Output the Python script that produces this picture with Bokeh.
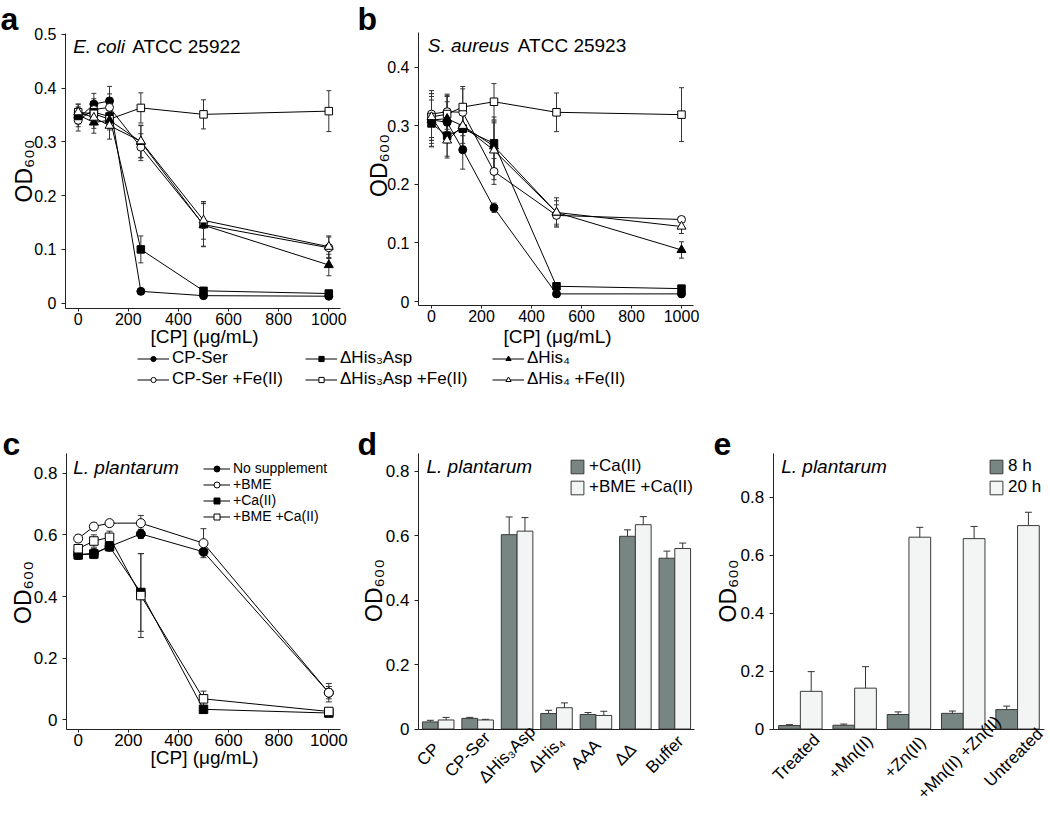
from bokeh.plotting import figure
from bokeh.models import (ColumnDataSource, Whisker, TeeHead, Legend, LegendItem, Label,
                          LabelSet, FixedTicker, CustomJSTickFormatter, Range1d)
from bokeh.core.properties import value
from bokeh.layouts import column, row
from bokeh.embed import file_html
from bokeh.resources import INLINE

FONT = "Liberation Sans"

# ---------------- data ----------------
conc = [0, 62.5, 125, 250, 500, 1000]
conc_ticks = [0, 200, 400, 600, 800, 1000]

ab_names = ["CP-Ser", "CP-Ser +Fe(II)", "ΔHis₃Asp", "ΔHis₃Asp +Fe(II)", "ΔHis₄", "ΔHis₄ +Fe(II)"]
ab_markers = ["circle", "circle", "square", "square", "triangle", "triangle"]
ab_fills = ["black", "white", "black", "white", "black", "white"]

# panel a  (E. coli)
a_cpser = [0.343, 0.370, 0.376, 0.022, 0.014, 0.013]
a_cpser_fe = [0.340, 0.360, 0.364, 0.290, 0.146, 0.103]
a_h3asp = [0.348, 0.355, 0.347, 0.100, 0.023, 0.018]
a_h3asp_fe = [0.355, 0.352, 0.342, 0.363, 0.351, 0.357]
a_h4 = [0.350, 0.336, 0.340, 0.300, 0.145, 0.071]
a_h4_fe = [0.355, 0.345, 0.330, 0.301, 0.154, 0.105]
a_cpser_err = [0.015, 0.020, 0.027, 0.003, 0.003, 0.003]
a_cpser_fe_err = [0.020, 0.020, 0.025, 0.025, 0.040, 0.020]
a_h3asp_err = [0.015, 0.015, 0.020, 0.025, 0.004, 0.004]
a_h3asp_fe_err = [0.015, 0.020, 0.020, 0.028, 0.027, 0.038]
a_h4_err = [0.015, 0.020, 0.015, 0.030, 0.040, 0.020]
a_h4_fe_err = [0.015, 0.020, 0.025, 0.030, 0.035, 0.020]

# panel b  (S. aureus)
b_cpser = [0.310, 0.306, 0.259, 0.160, 0.013, 0.013]
b_cpser_fe = [0.320, 0.324, 0.323, 0.222, 0.147, 0.140]
b_h3asp = [0.304, 0.283, 0.295, 0.270, 0.026, 0.022]
b_h3asp_fe = [0.315, 0.320, 0.332, 0.341, 0.323, 0.319]
b_h4 = [0.310, 0.312, 0.300, 0.265, 0.152, 0.088]
b_h4_fe = [0.315, 0.275, 0.300, 0.258, 0.152, 0.128]
b_cpser_err = [0.040, 0.035, 0.033, 0.008, 0.003, 0.003]
b_cpser_fe_err = [0.040, 0.030, 0.040, 0.022, 0.018, 0.005]
b_h3asp_err = [0.040, 0.035, 0.030, 0.045, 0.004, 0.004]
b_h3asp_fe_err = [0.040, 0.030, 0.035, 0.031, 0.033, 0.046]
b_h4_err = [0.045, 0.040, 0.030, 0.040, 0.025, 0.014]
b_h4_fe_err = [0.040, 0.030, 0.035, 0.050, 0.020, 0.012]

# panel c  (L. plantarum)
c_names = ["No supplement", "+BME", "+Ca(II)", "+BME +Ca(II)"]
c_markers = ["circle", "circle", "square", "square"]
c_fills = ["black", "white", "black", "white"]
c_none = [0.536, 0.540, 0.562, 0.603, 0.545, 0.088]
c_bme = [0.588, 0.627, 0.638, 0.638, 0.573, 0.088]
c_ca = [0.535, 0.538, 0.562, 0.413, 0.034, 0.022]
c_bme_ca = [0.555, 0.580, 0.592, 0.403, 0.068, 0.027]
c_none_err = [0.012, 0.015, 0.015, 0.015, 0.010, 0.020]
c_bme_err = [0.012, 0.012, 0.010, 0.025, 0.047, 0.030]
c_ca_err = [0.015, 0.015, 0.012, 0.126, 0.010, 0.005]
c_bme_ca_err = [0.012, 0.020, 0.020, 0.136, 0.025, 0.008]

# panel d
d_cats = ["CP", "CP-Ser", "ΔHis₃Asp", "ΔHis₄", "AAA", "ΔΔ", "Buffer"]
d_ca = [0.022, 0.033, 0.603, 0.048, 0.045, 0.598, 0.530]
d_ca_err = [0.005, 0.003, 0.055, 0.010, 0.006, 0.020, 0.022]
d_bme_ca = [0.028, 0.028, 0.614, 0.066, 0.042, 0.634, 0.560]
d_bme_ca_err = [0.008, 0.002, 0.042, 0.015, 0.013, 0.025, 0.017]
d_series = ["+Ca(II)", "+BME +Ca(II)"]

# panel e
e_cats = ["Treated", "+Mn(II)", "+Zn(II)", "+Mn(II) +Zn(II)", "Untreated"]
e_8h = [0.012, 0.013, 0.050, 0.054, 0.067]
e_8h_err = [0.003, 0.004, 0.009, 0.008, 0.012]
e_20h = [0.130, 0.141, 0.662, 0.657, 0.702]
e_20h_err = [0.068, 0.074, 0.034, 0.042, 0.046]
e_series = ["8 h", "20 h"]

od_ticks_a = [0, 0.1, 0.2, 0.3, 0.4, 0.5]
od_ticks_b = [0, 0.1, 0.2, 0.3, 0.4]
od_ticks_cde = [0, 0.2, 0.4, 0.6, 0.8]

DARK = "#788683"
LIGHT = "#f3f4f4"
EDGE = "#3a3a3a"
AXC = "#222222"
ERRC = "#333333"
MID = 0.35  # distance from alphabetic baseline to the middle of the text box, in em
LETTER = 32


class Panel:
    """A figure whose frame is its whole canvas; axes are placed with fixed_location."""

    def __init__(self, left, top, width, height, x0px, sx, y0py, sy):
        self.left, self.top = left, top
        self.x0px, self.sx, self.y0py, self.sy = x0px, sx, y0py, sy
        p = figure(width=width, height=height,
                   x_range=Range1d(self.X(left), self.X(left + width)),
                   y_range=Range1d(self.Y(top + height), self.Y(top)),
                   toolbar_location=None, output_backend="svg", min_border=0)
        p.title.visible = False
        p.outline_line_color = None
        p.xgrid.grid_line_color = None
        p.ygrid.grid_line_color = None
        self.p = p

    def X(self, px):
        return (px - self.x0px) / self.sx

    def Y(self, py):
        return (self.y0py - py) / self.sy

    def axes(self, xl, xr, yb, yt, xticks, yticks, font_px):
        xa, ya = self.p.xaxis[0], self.p.yaxis[0]
        xa.fixed_location = self.Y(yb)
        xa.bounds = (self.X(xl), self.X(xr))
        ya.fixed_location = self.X(xl)
        ya.bounds = (self.Y(yb), self.Y(yt))
        xa.ticker = FixedTicker(ticks=xticks)
        ya.ticker = FixedTicker(ticks=yticks)
        ya.formatter = CustomJSTickFormatter(code="return tick == 0 ? '0' : tick.toFixed(1);")
        for ax in (xa, ya):
            ax.axis_line_color = AXC
            ax.axis_line_width = 1
            ax.major_tick_line_color = AXC
            ax.major_tick_in = 0
            ax.minor_tick_line_color = None
            ax.major_label_text_font = FONT
            ax.major_label_text_font_size = font_px
            ax.major_label_text_color = "black"
        xa.major_tick_out = 3
        xa.major_label_standoff = 1
        ya.major_tick_out = 4
        ya.major_label_standoff = 5
        if not xticks:
            xa.major_label_text_font_size = "0px"

    def text(self, px, py, txt, size, style="normal", x_offset=0, align="left", angle=0):
        # (px, py) is the point on the alphabetic baseline; the label is anchored at its middle
        d = MID * size
        if angle == 0:
            py = py - d
        else:
            px = px - d
        self.p.add_layout(Label(x=self.X(px), y=self.Y(py), x_offset=x_offset, text=txt,
                                text_font=FONT, text_font_size=f"{size}px",
                                text_font_style=style, text_color="black", text_align=align,
                                text_baseline="middle", angle=angle, angle_units="deg"))

    def ylabel(self, px, py):
        self.text(px, py, "OD₆₀₀", 23, align="center", angle=90)


def whisker(p, src, base, cap):
    p.add_layout(Whisker(source=src, base=base, lower="lo", upper="hi",
                         line_color=ERRC, line_width=1,
                         upper_head=TeeHead(size=cap, line_color=ERRC, line_width=1),
                         lower_head=TeeHead(size=cap, line_color=ERRC, line_width=1)))


def err_source(xs, ys, es):
    return ColumnDataSource(dict(x=xs, y=ys, top=ys,
                                 lo=[y - e for y, e in zip(ys, es)],
                                 hi=[y + e for y, e in zip(ys, es)]))


def line_panel(p, ys_list, errs_list, markers, fills, sizes, cap):
    srcs = [err_source(conc, ys, es) for ys, es in zip(ys_list, errs_list)]
    for s in srcs:
        whisker(p, s, "x", cap)
    lines = [p.line("x", "y", source=s, line_color="black", line_width=1) for s in srcs]
    marks = [p.scatter("x", "y", source=s, marker=m, size=sizes[m], fill_color=f,
                       line_color="black", line_width=1)
             for s, m, f in zip(srcs, markers, fills)]
    return lines, marks


ab_sizes = {"circle": 8, "square": 7.5, "triangle": 9}
c_sizes = {"circle": 9, "square": 8.5}

PAGE_H = 814
TOP_H = 348
LEG_H = 41
BOT_TOP = TOP_H + LEG_H
BOT_H = PAGE_H - BOT_TOP

# ---------------- panel a ----------------
A = Panel(0, 0, 355, TOP_H, 77.7, 0.2506, 302.7, 538.0)
A.axes(65, 340, 308, 33, conc_ticks, od_ticks_a, "16px")
line_panel(A.p, [a_cpser, a_cpser_fe, a_h3asp, a_h3asp_fe, a_h4, a_h4_fe],
           [a_cpser_err, a_cpser_fe_err, a_h3asp_err, a_h3asp_fe_err, a_h4_err, a_h4_fe_err],
           ab_markers, ab_fills, ab_sizes, 5)
A.text(0, 29.5, "a", LETTER, "bold")
A.text(72.7, 52.7, "E. coli", 19, "italic")
A.text(72.7, 52.7, "ATCC 25922", 19, x_offset=59)
A.text(204, 343, "[CP] (μg/mL)", 19, align="center")
A.ylabel(32, 170.5)

# ---------------- panel b ----------------
B = Panel(355, 0, 355, TOP_H, 431.0, 0.25, 301.0, 585.75)
B.axes(418, 693, 305, 32, conc_ticks, od_ticks_b, "16px")
line_panel(B.p, [b_cpser, b_cpser_fe, b_h3asp, b_h3asp_fe, b_h4, b_h4_fe],
           [b_cpser_err, b_cpser_fe_err, b_h3asp_err, b_h3asp_fe_err, b_h4_err, b_h4_fe_err],
           ab_markers, ab_fills, ab_sizes, 5)
B.text(357, 29.5, "b", LETTER, "bold")
B.text(427.3, 51.7, "S. aureus", 19, "italic")
B.text(427.3, 51.7, "ATCC 25923", 19, x_offset=90)
B.text(557, 343, "[CP] (μg/mL)", 19, align="center")
B.ylabel(386.7, 165)

# ---------------- shared legend for a/b ----------------
fl = figure(width=710, height=LEG_H, x_range=Range1d(0, 1), y_range=Range1d(10, 11),
            toolbar_location=None, output_backend="svg", x_axis_type=None, y_axis_type=None,
            min_border=0)
fl.title.visible = False
fl.outline_line_color = None
leg_items = []
for name, ys, m, f in zip(ab_names, [a_cpser, a_cpser_fe, a_h3asp, a_h3asp_fe, a_h4, a_h4_fe],
                          ab_markers, ab_fills):
    rl = fl.line(x=conc, y=ys, line_color="black", line_width=1)
    rs = fl.scatter(x=conc, y=ys, marker=m, fill_color=f, line_color="black", line_width=1)
    leg_items.append(LegendItem(label=name, renderers=[rl, rs]))
for k, lx in enumerate([137, 305, 492]):
    fl.add_layout(Legend(items=leg_items[2 * k:2 * k + 2], location=(lx, 0),
                         orientation="vertical", glyph_width=32, glyph_height=13,
                         label_height=13, label_standoff=3, spacing=1, padding=0, margin=0,
                         border_line_color=None, background_fill_alpha=0,
                         label_text_font=FONT, label_text_font_size="17px",
                         label_text_color="black"))

# ---------------- panel c ----------------
C = Panel(0, BOT_TOP, 355, BOT_H, 77.7, 0.2506, 719.3, 308.25)
C.axes(66, 340, 729, 453, conc_ticks, od_ticks_cde, "17px")
c_lines, c_marks = line_panel(C.p, [c_none, c_bme, c_ca, c_bme_ca],
                              [c_none_err, c_bme_err, c_ca_err, c_bme_ca_err],
                              c_markers, c_fills, c_sizes, 6)
C.p.add_layout(Legend(items=[LegendItem(label=n, renderers=[l, m])
                             for n, l, m in zip(c_names, c_lines, c_marks)],
                      location=(203, PAGE_H - 524), orientation="vertical",
                      glyph_width=27, glyph_height=15, label_height=15, label_standoff=3,
                      spacing=0, padding=0, margin=0, border_line_color=None,
                      background_fill_alpha=0, label_text_font=FONT, label_text_font_size="14px",
                      label_text_color="black"))
C.text(2, 455, "c", LETTER, "bold")
C.text(72.7, 473.3, "L. plantarum", 19, "italic")
C.text(204, 764, "[CP] (μg/mL)", 19, align="center")
C.ylabel(30.7, 592)


# ---------------- bar panels ----------------
def bar_panel(P, cats, dark, dark_err, light, light_err, names, cap, lab_dx, lab_py, leg_x):
    p = P.p
    n = len(cats)
    centers = [i + 0.5 for i in range(n)]
    s1 = err_source([c - 0.2 for c in centers], dark, dark_err)
    s2 = err_source([c + 0.2 for c in centers], light, light_err)
    r1 = p.vbar(x="x", top="top", width=0.4, source=s1, fill_color=DARK, line_color=EDGE,
                line_width=1)
    r2 = p.vbar(x="x", top="top", width=0.4, source=s2, fill_color=LIGHT, line_color=EDGE,
                line_width=1)
    for s in (s1, s2):
        whisker(p, s, "x", cap)
    ls = ColumnDataSource(dict(x=[c + lab_dx / P.sx for c in centers],
                               y=[P.Y(lab_py)] * n, t=cats))
    p.add_layout(LabelSet(x="x", y="y", text="t", source=ls, angle=45, angle_units="deg",
                          text_align="center", text_baseline="middle",
                          text_font=value(FONT), text_font_size=value("17px"),
                          text_color="black"))
    p.add_layout(Legend(items=[LegendItem(label=names[0], renderers=[r1]),
                               LegendItem(label=names[1], renderers=[r2])],
                        location=(leg_x, PAGE_H - 497), orientation="vertical",
                        glyph_width=16, glyph_height=17, label_height=17, label_standoff=4,
                        spacing=1, padding=0, margin=0, border_line_color=None,
                        background_fill_alpha=0, label_text_font=FONT,
                        label_text_font_size="17px", label_text_color="black"))


D = Panel(355, BOT_TOP, 350, BOT_H, 418.0, 39.43, 728.5, 322.25)
D.axes(418, 694, 728.5, 453, [], od_ticks_cde, "17px")
bar_panel(D, d_cats, d_ca, d_ca_err, d_bme_ca, d_bme_ca_err, d_series, 7, -10, 754, 569 - 355)
D.text(357, 455, "d", LETTER, "bold")
D.text(426, 472.7, "L. plantarum", 19, "italic")
D.ylabel(381.7, 590)

E = Panel(705, BOT_TOP, 345, BOT_H, 772.7, 54.3, 728.5, 289.75)
E.axes(772.7, 1044, 728.5, 452.7, [], od_ticks_cde, "17px")
bar_panel(E, e_cats, e_8h, e_8h_err, e_20h, e_20h_err, e_series, 7, -4, 757, 988 - 705)
E.text(713, 455, "e", LETTER, "bold")
E.text(780.7, 472.7, "L. plantarum", 19, "italic")
E.ylabel(735.7, 590.5)

layout = column(row(A.p, B.p), fl, row(C.p, D.p, E.p))
open("out.html", "w").write(file_html(layout, INLINE))
